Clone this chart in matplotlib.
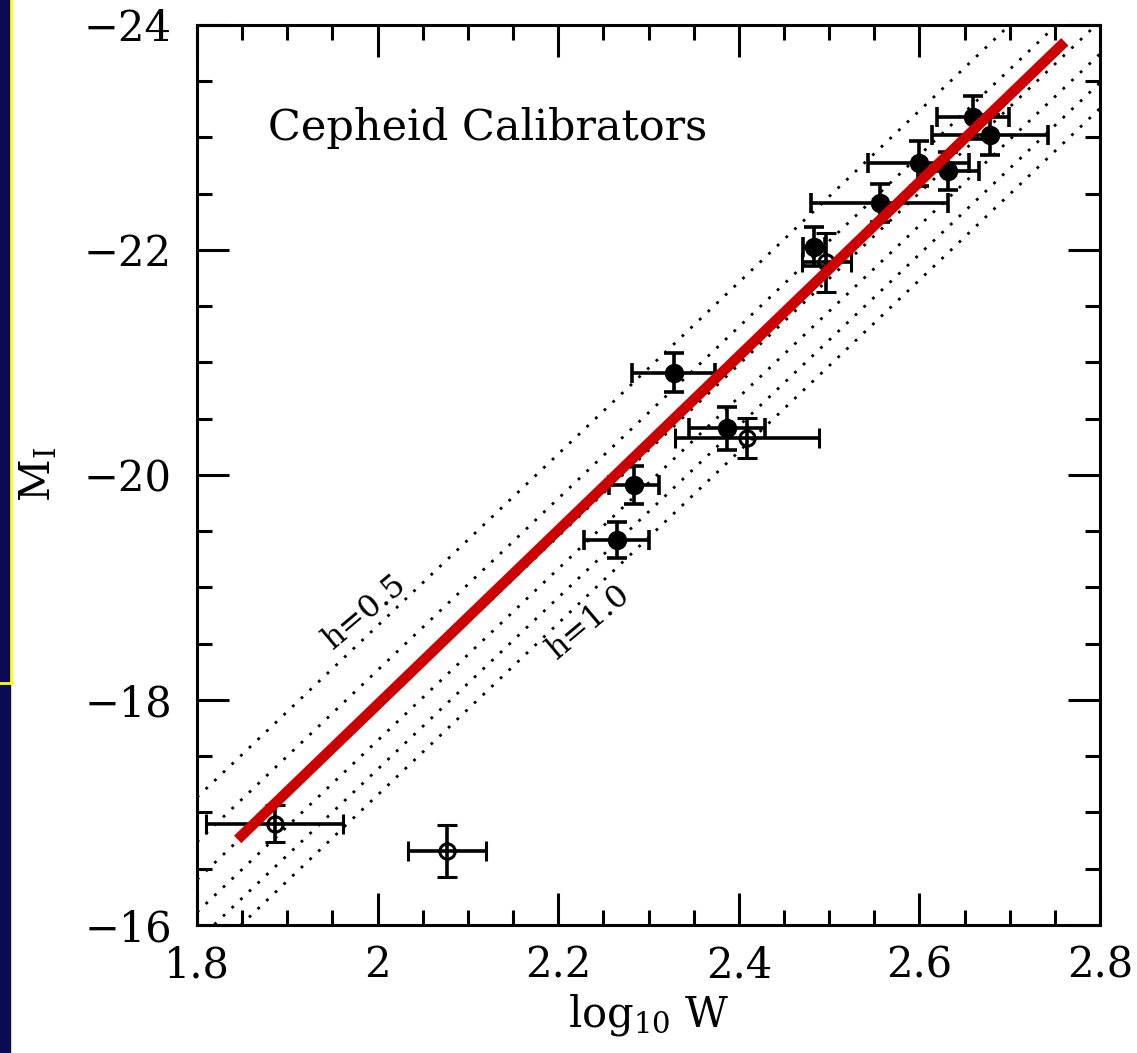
import numpy as np
import matplotlib
matplotlib.use("Agg")
import matplotlib.pyplot as plt
from matplotlib.lines import Line2D
from matplotlib.patches import Rectangle

plt.rcParams['font.family'] = ['DejaVu Serif']
plt.rcParams['mathtext.fontset'] = 'dejavuserif'

# calibrators with Cepheid distances (filled) and the rest (open)
logw_fill = [2.265, 2.284, 2.328, 2.387, 2.483, 2.556, 2.599, 2.632, 2.659, 2.678]
mag_fill = [-19.42, -19.91, -20.91, -20.415, -22.03, -22.415, -22.77, -22.705, -23.18, -23.02]
xerr_fill = [0.036, 0.028, 0.046, 0.042, 0.012, 0.076, 0.056, 0.034, 0.040, 0.064]
yerr_fill = [0.16, 0.17, 0.17, 0.19, 0.17, 0.17, 0.20, 0.17, 0.19, 0.18]

logw_open = [1.886, 2.0765, 2.409, 2.497]
mag_open = [-16.90, -16.66, -20.33, -21.89]
xerr_open = [0.076, 0.043, 0.080, 0.027]
yerr_open = [0.163, 0.23, 0.18, 0.26]

# fitted relation (red) and the h-scaled relations (dotted)
fit_range = [1.845, 2.761]
fit_zero, fit_slope = -21.83, -7.74
h_values = [0.5, 0.6, 0.7, 0.8, 0.9, 1.0]
h_zero, h_slope = -20.97, -7.63

fig = plt.figure(figsize=(11.37, 10.53), dpi=100)
ax = fig.add_axes([0.1733, 0.1216, 0.7942, 0.8547])

xx = np.array([1.8, 2.8])
for h in h_values:
    ax.plot(xx, h_zero + 5 * np.log10(h) + h_slope * (xx - 2.5), color='black',
            lw=2, linestyle=(0, (1, 3.3)), zorder=1)

ax.errorbar(logw_fill, mag_fill, xerr=xerr_fill, yerr=yerr_fill, fmt='o', ms=13,
            color='black', ecolor='black', elinewidth=2.6, capsize=7.5, capthick=2.6, zorder=3)
ax.errorbar(logw_open, mag_open, xerr=xerr_open, yerr=yerr_open, fmt='o', ms=11,
            mfc='none', mec='black', mew=2.2, ecolor='black', elinewidth=2.6,
            capsize=7.5, capthick=2.6, zorder=3)

fx = np.array(fit_range)
ax.plot(fx, fit_zero + fit_slope * (fx - 2.5), color='#cc0000', lw=7.5,
        solid_capstyle='butt', zorder=4)

ax.text(1.8786, -22.98, 'Cepheid Calibrators', fontsize=31, ha='left', va='baseline')
ax.text(1.986, -18.78, 'h=0.5', fontsize=23, rotation=40, ha='center', va='center')
ax.text(2.234, -18.69, 'h=1.0', fontsize=23, rotation=40, ha='center', va='center')

ax.set_xlim(1.8, 2.8)
ax.set_ylim(-16, -24)
ax.set_xticks([1.8, 2.0, 2.2, 2.4, 2.6, 2.8])
ax.set_xticklabels(['1.8', '2', '2.2', '2.4', '2.6', '2.8'])
ax.set_yticks([-24, -22, -20, -18, -16])
ax.set_yticklabels(['\u221224', '\u221222', '\u221220', '\u221218', '\u221216'])
ax.set_xticks(np.arange(1.8, 2.801, 0.05), minor=True)
ax.set_yticks(np.arange(-24, -15.99, 0.5), minor=True)
ax.tick_params(which='both', direction='in', top=True, right=True, width=2.2)
ax.tick_params(which='major', length=23, labelsize=30)
ax.tick_params(axis='y', which='major', pad=18)
ax.tick_params(axis='x', which='major', pad=14)
ax.tick_params(which='minor', length=11)
for s in ax.spines.values():
    s.set_linewidth(2.2)

ax.set_xlabel('log$_{10}$ W', fontsize=30, labelpad=4)
ax.set_ylabel('M$_{\\rm I}$', fontsize=30, labelpad=18)

# slide border on the left
fig.add_artist(Rectangle((0, 0), 10 / 1137, 1, transform=fig.transFigure,
                         color='#0b0b55', zorder=0))
fig.add_artist(Line2D([11 / 1137, 11 / 1137], [1, 1 - 683 / 1053], transform=fig.transFigure,
                      color='#ffff00', lw=2))
fig.add_artist(Line2D([0, 12 / 1137], [1 - 683 / 1053, 1 - 683 / 1053], transform=fig.transFigure,
                      color='#ffff00', lw=2))

fig.savefig('out.png', dpi=100)
